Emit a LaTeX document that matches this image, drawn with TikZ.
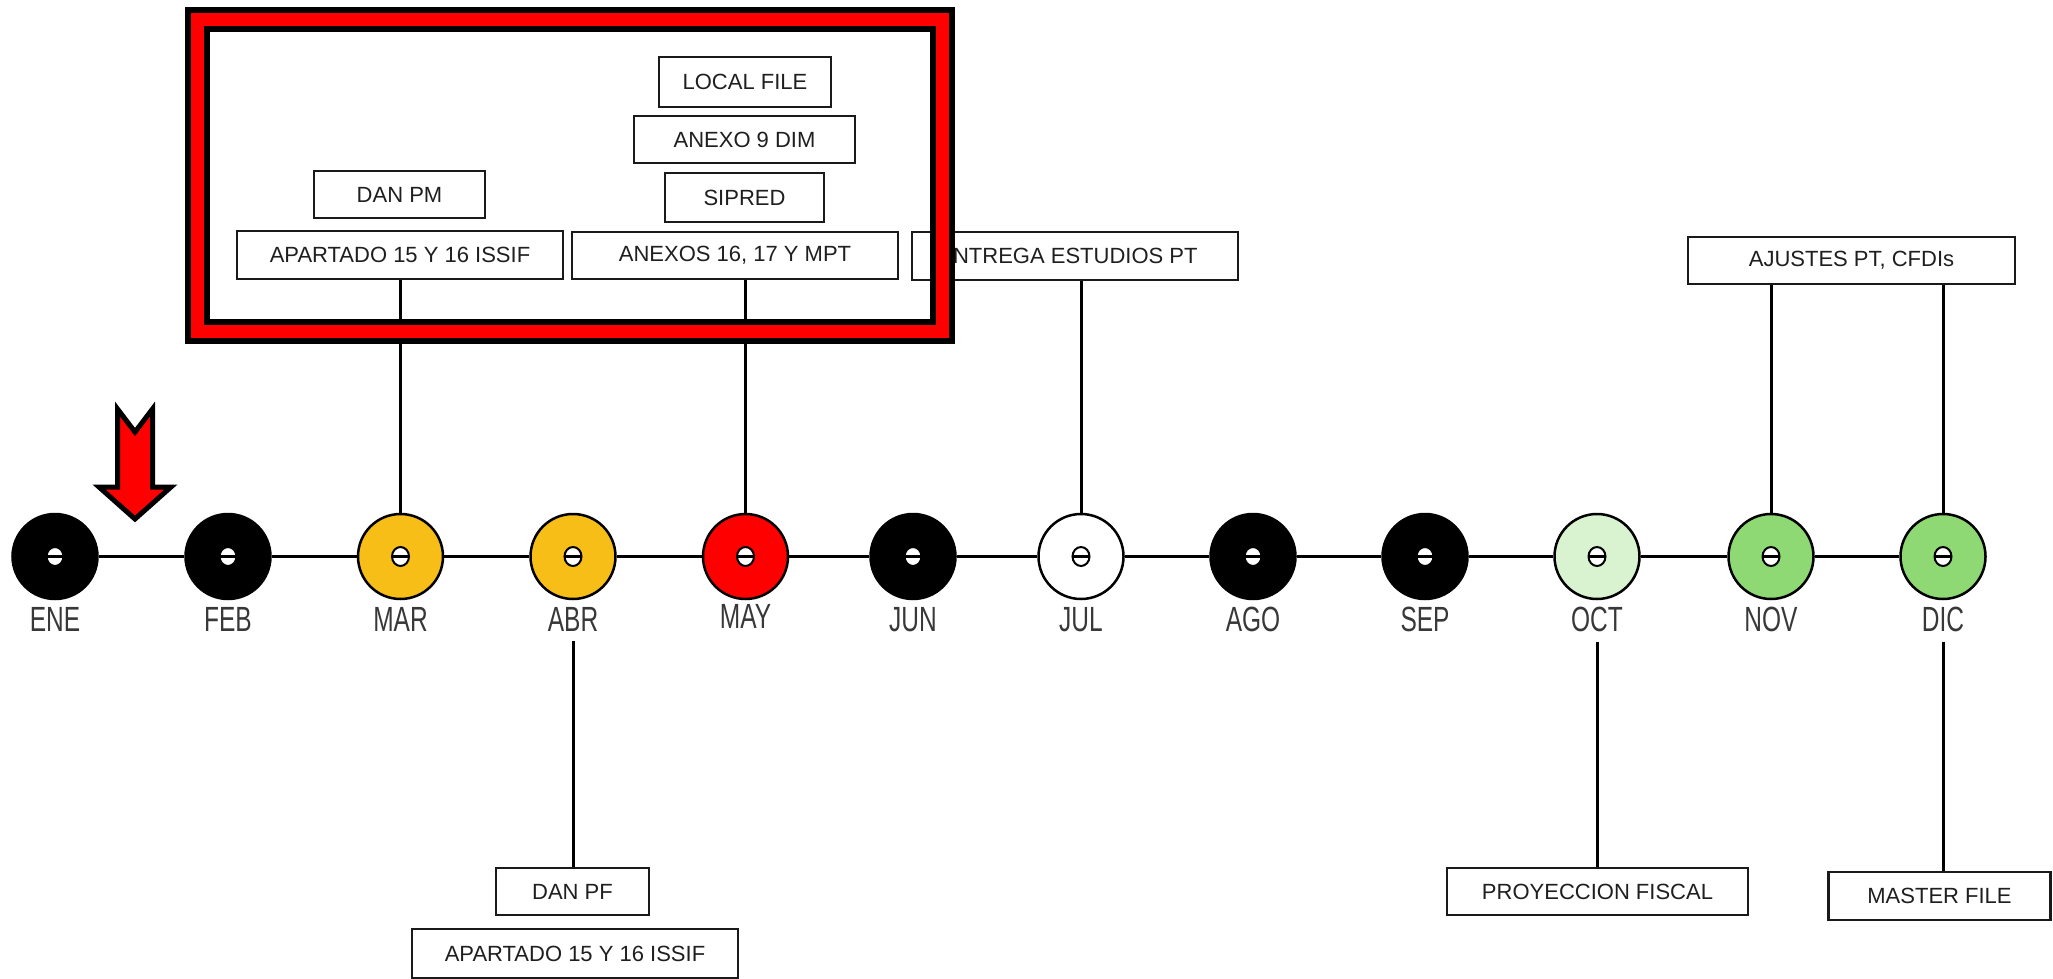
\documentclass[tikz,border=0pt]{standalone}
\usepackage{fontspec}
\setmainfont{Liberation Sans}
\newfontfamily\monthfont[FakeStretch=0.7]{Liberation Sans}
\definecolor{gold}{HTML}{F7BE17}
\definecolor{mayred}{HTML}{FF0000}
\definecolor{lgreen}{HTML}{D9F2D0}
\definecolor{mgreen}{HTML}{8ED973}
\definecolor{boxline}{HTML}{1A1A1A}
\definecolor{txt}{HTML}{1F1F1F}
\definecolor{labgray}{HTML}{383838}
\begin{document}
\begin{tikzpicture}[x=1pt,y=-1pt,
  box/.style={draw=boxline, line width=2.5pt, fill=white, inner sep=0pt, font=\fontsize{22}{26}\selectfont, text=txt},
  mon/.style={circle, draw=black, line width=2.5pt, minimum size=85pt, inner sep=0pt},
  lab/.style={font=\monthfont\fontsize{35}{40}\selectfont, text=labgray, anchor=base, inner xsep=0pt, inner ysep=10pt},
  conn/.style={line width=3pt, black},
  tline/.style={line width=3pt, black},
]
\useasboundingbox (0,0) rectangle (2053,979);
\fill[white] (0,0) rectangle (2053,979);

% month circles
\foreach \n/\x/\c in {ene/55/black, feb/228/black, mar/400.5/gold, abr/573/gold, may/745.5/mayred, jun/913/black, jul/1081/white, ago/1253/black, sep/1425/black, oct/1597/lgreen, nov/1771/mgreen, dic/1943/mgreen}
{
  \node[mon, fill=\c] (\n) at (\x,556.5) {};
  \draw[black, line width=2pt, fill=white] (\n.center) ellipse [x radius=8.5, y radius=9.5];
  \draw[tline] ([xshift=-8.5pt]\n.center) -- ([xshift=8.5pt]\n.center);
}
% timeline
\draw[tline] (ene) -- (feb);
\draw[tline] (feb) -- (mar);
\draw[tline] (mar) -- (abr);
\draw[tline] (abr) -- (may);
\draw[tline] (may) -- (jun);
\draw[tline] (jun) -- (jul);
\draw[tline] (jul) -- (ago);
\draw[tline] (ago) -- (sep);
\draw[tline] (sep) -- (oct);
\draw[tline] (oct) -- (nov);
\draw[tline] (nov) -- (dic);

% month labels
\node[lab] (enel) at (55,631) {ENE};
\node[lab] (febl) at (228,631) {FEB};
\node[lab] (marl) at (400.5,631) {MAR};
\node[lab] (abrl) at (573,631) {ABR};
\node[lab] (mayl) at (745.5,628) {MAY};
\node[lab] (junl) at (913,631) {JUN};
\node[lab] (jull) at (1081,631) {JUL};
\node[lab] (agol) at (1253,631) {AGO};
\node[lab] (sepl) at (1425,631) {SEP};
\node[lab] (octl) at (1597,631) {OCT};
\node[lab] (novl) at (1771,631) {NOV};
\node[lab] (dicl) at (1943,631) {DIC};

% boxes
\node[box, minimum width=172pt, minimum height=50pt] (localfile) at (745,82) {LOCAL FILE};
\node[box, minimum width=221pt, minimum height=47pt] (anexo9) at (744.5,139.5) {ANEXO 9 DIM};
\node[box, minimum width=159pt, minimum height=49pt] (sipred) at (744.5,197.5) {SIPRED};
\node[box, minimum width=171pt, minimum height=47pt] (danpm) at (399.5,194.5) {DAN PM};
\node[box, minimum width=326pt, minimum height=48pt] (apt1) at (400,255) {APARTADO 15 Y 16 ISSIF};
\node[box, minimum width=326pt, minimum height=47pt] (anx) at (735,255.5) {ANEXOS 16, 17 Y MPT};
\node[box, minimum width=326pt, minimum height=48pt] (entrega) at (1075,256) {\hspace*{-14pt}ENTREGA ESTUDIOS PT};
\node[box, minimum width=327pt, minimum height=47pt] (ajustes) at (1851.5,260.5) {AJUSTES PT, CFDIs};
\node[box, minimum width=153pt, minimum height=47pt] (danpf) at (572.5,891.5) {DAN PF};
\node[box, minimum width=326pt, minimum height=49pt] (apt2) at (575,953.5) {APARTADO 15 Y 16 ISSIF};
\node[box, minimum width=301pt, minimum height=47pt] (proy) at (1597.5,891.5) {PROYECCION FISCAL};
\node[box, minimum width=222pt, minimum height=48pt] (master) at (1939.5,896) {MASTER FILE};

% connectors
\draw[conn] (apt1.south -| mar.north) -- (mar.north);
\draw[conn] (anx.south -| may.north) -- (may.north);
\draw[conn] (entrega.south -| jul.north) -- (jul.north);
\draw[conn] (ajustes.south -| nov.north) -- (nov.north);
\draw[conn] (ajustes.south -| dic.north) -- (dic.north);
\draw[conn] (abrl.south) -- (danpf.north -| abrl.south);
\draw[conn] (octl.south) -- (proy.north -| octl.south);
\draw[conn] (dicl.south) -- (master.north -| dicl.south);

% red frame
\draw[black, line width=25pt, line join=miter] (197.5,19.5) rectangle (942,331);
\draw[mayred, line width=13pt, line join=miter] (197.5,19.5) rectangle (942,331);

% red arrow
\draw[fill=mayred, draw=black, line width=5pt, line join=miter]
  (117.5,409) -- (135,432) -- (152.5,409) -- (152.5,487) -- (171,487) -- (135,519) -- (99,487) -- (117.5,487) -- cycle;
\end{tikzpicture}
\end{document}
